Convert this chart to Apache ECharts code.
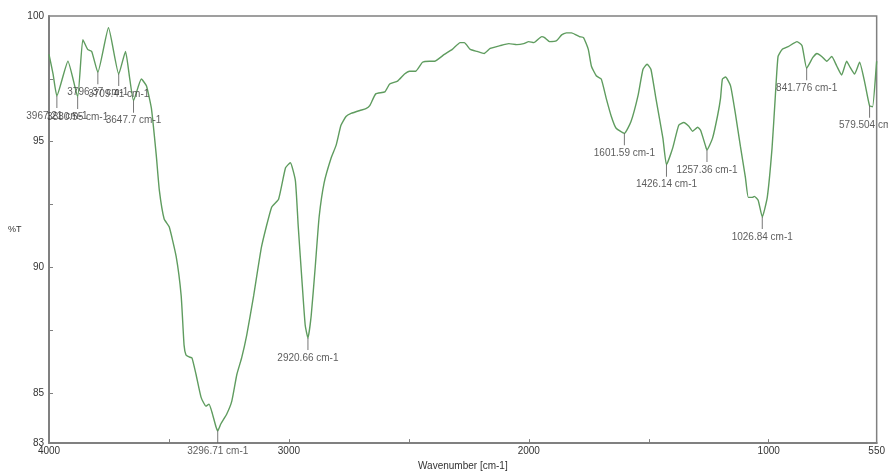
<!DOCTYPE html>
<html>
<head>
<meta charset="utf-8">
<script src="https://cdn.jsdelivr.net/npm/echarts@6/dist/echarts.min.js"></script>
<style>
  html, body { margin: 0; padding: 0; background: #fff; }
  #chart { width: 888px; height: 476px; }
</style>
</head>
<body>
<div id="chart"></div>
<script>
// FTIR spectrum: wavenumber (cm-1) against transmittance (%T)
const wavenumbers = [
  4000, 3983, 3967.21, 3921, 3880.55, 3859, 3839, 3822, 3796.37, 3752,
  3709.41, 3681, 3665, 3647.7, 3615, 3594, 3573, 3553, 3540, 3520,
  3499, 3470, 3449, 3437, 3429, 3416, 3404, 3387, 3366, 3346,
  3333, 3321, 3304, 3296.71, 3284, 3259, 3238, 3217, 3197, 3176,
  3147, 3114, 3072, 3043, 3014, 2994, 2973, 2961, 2944, 2932,
  2920.66, 2907, 2890, 2874, 2853, 2824, 2803, 2783, 2762, 2741,
  2704, 2679, 2663, 2638, 2600, 2580, 2547, 2518, 2497, 2472,
  2443, 2414, 2393, 2352, 2319, 2286, 2269, 2244, 2215, 2186,
  2161, 2120, 2083, 2050, 2021, 2000, 1979, 1946, 1934, 1913,
  1884, 1863, 1843, 1822, 1789, 1772, 1752, 1739, 1718, 1698,
  1677, 1656, 1636, 1601.59, 1574, 1545, 1524, 1507, 1491, 1470,
  1441, 1426.14, 1400, 1375, 1354, 1333, 1317, 1296, 1284, 1263,
  1257.36, 1234, 1213, 1201, 1193, 1180, 1159, 1139, 1118, 1097,
  1085, 1068, 1060, 1044, 1026.84, 1006, 986, 973, 961, 944,
  919, 882, 861, 841.776, 816, 799, 779, 758, 737, 716,
  696, 675, 663, 642, 621, 600, 579.504, 567, 551, 550
];
const transmittance = [
  98.47, 97.69, 96.82, 98.20, 96.78, 99.06, 98.67, 98.59, 97.76, 99.53,
  97.69, 98.59, 97.61, 96.63, 97.49, 97.22, 96.31, 94.47, 93.06, 91.92,
  91.61, 90.43, 88.86, 86.90, 86.51, 86.43, 86.39, 85.73, 84.82, 84.47,
  84.55, 84.24, 83.65, 83.49, 83.76, 84.16, 84.67, 85.73, 86.39, 87.29,
  88.86, 90.82, 92.39, 92.71, 93.96, 94.16, 93.45, 91.61, 89.25, 87.69,
  87.18, 88.08, 90.04, 92.00, 93.37, 94.35, 94.86, 95.65, 96.00, 96.12,
  96.24, 96.31, 96.43, 96.90, 96.98, 97.29, 97.41, 97.69, 97.80, 97.80,
  98.16, 98.20, 98.20, 98.47, 98.67, 98.94, 98.94, 98.67, 98.59, 98.51,
  98.71, 98.82, 98.90, 98.86, 98.90, 98.98, 98.94, 99.18, 99.14, 98.98,
  99.02, 99.25, 99.33, 99.33, 99.18, 99.14, 98.67, 98.00, 97.61, 97.49,
  96.71, 96.00, 95.53, 95.33, 95.80, 96.82, 97.88, 98.08, 97.88, 96.71,
  95.14, 94.08, 94.75, 95.65, 95.76, 95.61, 95.41, 95.57, 95.45, 94.82,
  94.67, 95.14, 96.04, 96.71, 97.49, 97.57, 97.22, 96.12, 94.82, 93.57,
  92.78, 92.78, 92.82, 92.67, 92.00, 92.78, 94.75, 96.71, 98.39, 98.67,
  98.78, 98.98, 98.82, 97.92, 98.35, 98.51, 98.39, 98.20, 98.39, 98.00,
  97.65, 98.20, 98.00, 97.69, 98.16, 97.37, 96.43, 96.39, 98.08, 98.20
];

// Labelled absorption peaks (cm-1)
const peakWavenumbers = [
  3967.21, 3880.55, 3796.37, 3709.41, 3647.7, 3296.71, 2920.66,
  1601.59, 1426.14, 1257.36, 1026.84, 841.776, 579.504
];

// Axis ticks and labels
const xLabelValues = [4000, 3000, 2000, 1000, 550];
const xTickValues = [3500, 3000, 2500, 2000, 1500, 1000];
const yLabelValues = [83, 85, 90, 95, 100];
const yTickValues = [85, 87.5, 90, 92.5, 95, 97.5];

const spectrum = wavenumbers.map((w, i) => [w, transmittance[i]]);
const peaks = peakWavenumbers.map(w => {
  const i = wavenumbers.indexOf(w);
  return { value: [w, transmittance[i]], name: w + ' cm-1' };
});

const textColor = '#333333';
const axisColor = '#808080';
const font = 'Liberation Sans, Arial, sans-serif';

const chart = echarts.init(document.getElementById('chart'), null, { renderer: 'canvas' });
chart.setOption({
  animation: false,
  backgroundColor: '#ffffff',
  grid: {
    left: 49, right: 3, top: 16, bottom: 26,
    show: true, borderColor: axisColor, borderWidth: 1.5,
    backgroundColor: 'transparent'
  },
  xAxis: {
    type: 'value',
    inverse: true,
    min: 550,
    max: 4000,
    name: 'Wavenumber [cm-1]',
    nameLocation: 'middle',
    nameGap: 17,
    nameTextStyle: { color: textColor, fontSize: 10, fontFamily: font },
    axisLine: { show: true, lineStyle: { color: axisColor, width: 2 } },
    axisTick: { show: true, inside: true, length: 4, customValues: xTickValues,
      lineStyle: { color: axisColor, width: 1 } },
    axisLabel: { customValues: xLabelValues, color: textColor, fontSize: 10,
      fontFamily: font, margin: 3, formatter: v => String(v) },
    splitLine: { show: false }
  },
  yAxis: {
    type: 'value',
    min: 83,
    max: 100,
    name: '%T',
    nameLocation: 'middle',
    nameRotate: 0,
    nameGap: 22,
    nameTextStyle: { color: textColor, fontSize: 9, fontFamily: font },
    axisLine: { show: true, lineStyle: { color: axisColor, width: 2 } },
    axisTick: { show: true, inside: true, length: 4, customValues: yTickValues,
      lineStyle: { color: axisColor, width: 1 } },
    axisLabel: { customValues: yLabelValues, color: textColor, fontSize: 10,
      fontFamily: font, margin: 5, formatter: v => String(v) },
    splitLine: { show: false }
  },
  series: [
    {
      name: 'spectrum',
      type: 'line',
      data: spectrum,
      showSymbol: false,
      smooth: 0.15,
      lineStyle: { color: '#5f9c5f', width: 1.4 },
      z: 2
    },
    {
      name: 'peaks',
      type: 'scatter',
      data: peaks,
      symbol: 'rect',
      symbolSize: [1, 12],
      symbolOffset: [0, 6],
      itemStyle: { color: '#555555' },
      label: {
        show: true,
        position: 'bottom',
        distance: 3,
        formatter: p => p.name,
        color: textColor,
        fontSize: 10,
        fontFamily: font
      },
      z: 3
    }
  ]
});
</script>
</body>
</html>
